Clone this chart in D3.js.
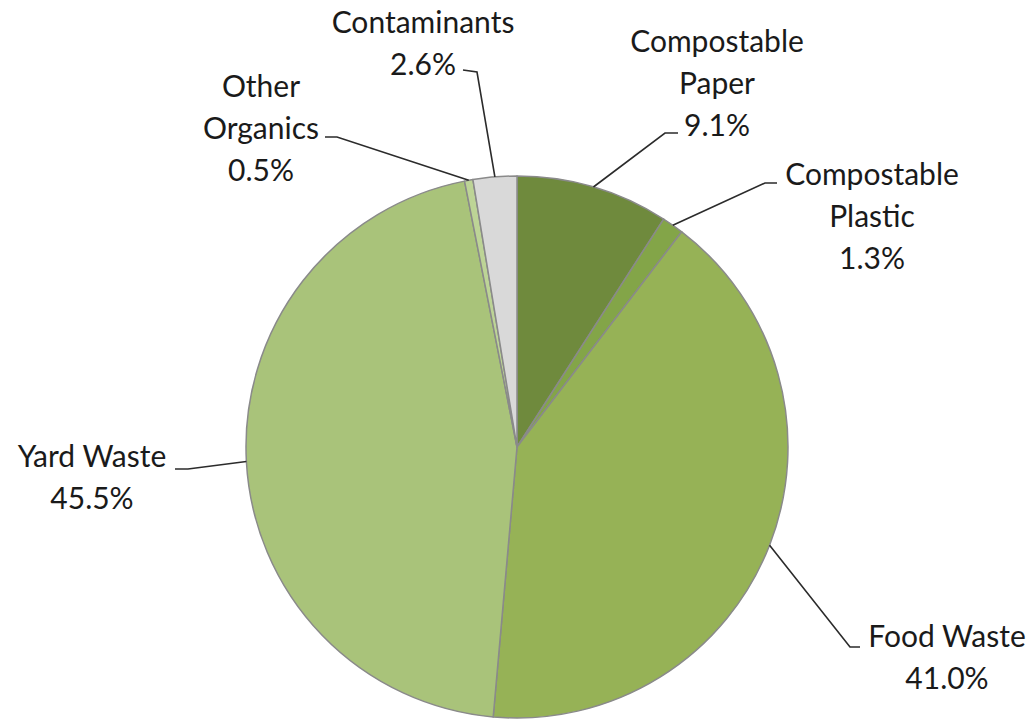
<!DOCTYPE html>
<html>
<head>
<meta charset="utf-8">
<script src="https://cdn.jsdelivr.net/npm/d3@7"></script>
<style>
  body { margin: 0; background: #fff; }
  svg text { font-family: Lato, "Open Sans", sans-serif; fill: #1a1a1a; }
</style>
</head>
<body>
<svg id="chart" width="1033" height="719"></svg>
<script>
// slices, clockwise from 12 o'clock
const categories = ["Compostable Paper", "Compostable Plastic", "Food Waste", "Yard Waste", "Other Organics", "Contaminants"];
const shares = [9.1, 1.3, 41.0, 45.5, 0.5, 2.6];
const labelLines = [
  ["Compostable", "Paper", "9.1%"],
  ["Compostable", "Plastic", "1.3%"],
  ["Food Waste", "41.0%"],
  ["Yard Waste", "45.5%"],
  ["Other", "Organics", "0.5%"],
  ["Contaminants", "2.6%"]
];
const colors = ["#6f8a3d", "#83a548", "#96b256", "#a9c37a", "#bdd496", "#d9d9d9"];

// label placement: text centre x, first baseline y, leader start + elbow
const labelPos = [
  {x: 717, y: 52, leader: [[678, 133], [665, 133]]},
  {x: 872, y: 185, leader: [[777, 183], [765, 183]]},
  {x: 947, y: 647, leader: [[860, 647], [850, 647]]},
  {x: 92, y: 467, leader: [[175, 469], [188, 469]]},
  {x: 261, y: 97, leader: [[325, 137], [337, 137]]},
  {x: 423, y: 33, leader: [[463, 70], [477, 72]]}
];

const cx = 517, cy = 447, r = 271;
const lineH = 42;

const svg = d3.select("#chart");
const g = svg.append("g").attr("transform", `translate(${cx},${cy})`);

const pie = d3.pie().sort(null).value(d => d);
const arcs = pie(shares);
const arc = d3.arc().innerRadius(0).outerRadius(r);

g.selectAll("path.slice")
  .data(arcs)
  .join("path")
  .attr("class", "slice")
  .attr("d", arc)
  .attr("fill", (d, i) => colors[i])
  .attr("stroke", "#8a8a8a")
  .attr("stroke-width", 1.5)
  .attr("stroke-linejoin", "round");

// leader lines end on the pie edge at each slice's mid angle
arcs.forEach((d, i) => {
  const a = (d.startAngle + d.endAngle) / 2;
  const edge = [cx + r * Math.sin(a), cy - r * Math.cos(a)];
  const pts = labelPos[i].leader.concat([edge]);
  svg.append("path")
    .attr("d", d3.line()(pts))
    .attr("fill", "none")
    .attr("stroke", "#2b2b2b")
    .attr("stroke-width", 1.6);
});

labelLines.forEach((lines, i) => {
  const t = svg.append("text")
    .attr("text-anchor", "middle")
    .attr("font-size", 30);
  lines.forEach((s, j) => {
    t.append("tspan")
      .attr("x", labelPos[i].x)
      .attr("y", labelPos[i].y + j * lineH)
      .text(s);
  });
});
</script>
</body>
</html>
